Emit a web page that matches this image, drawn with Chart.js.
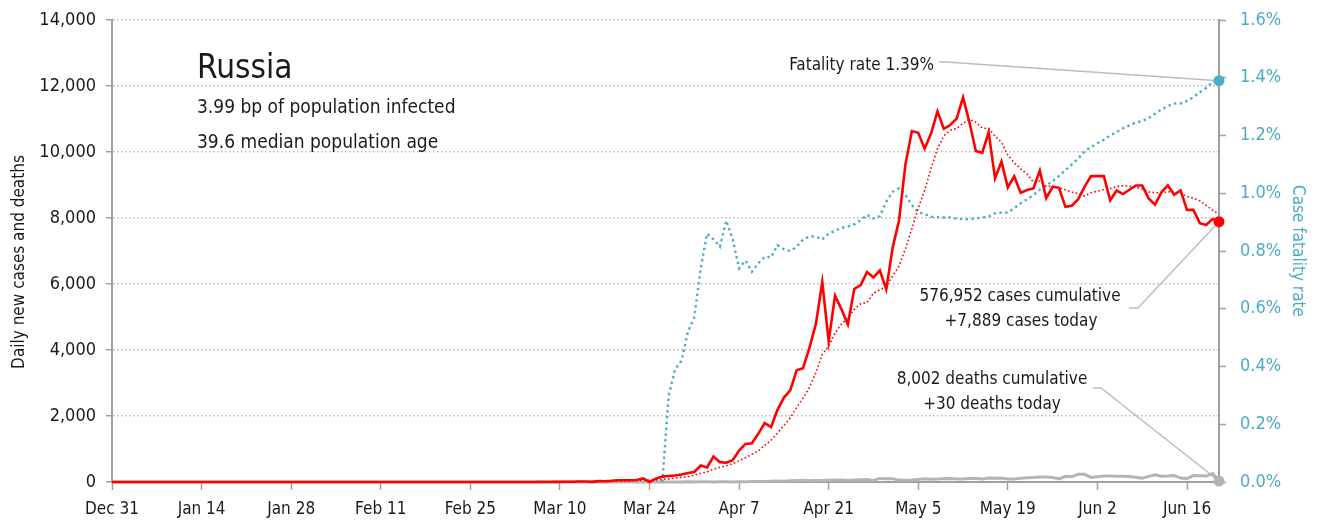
<!DOCTYPE html>
<html><head><meta charset="utf-8">
<script src="https://cdn.jsdelivr.net/npm/chart.js@4/dist/chart.umd.min.js"></script>
<style>html,body{margin:0;padding:0;background:#fff;}canvas{display:block;}</style>
</head><body>
<canvas id="c" width="1324" height="524"></canvas>
<script>
// ---- data (one value per day, Dec 31 = day 0) ----
const tickLabels = ['Dec 31','Jan 14','Jan 28','Feb 11','Feb 25','Mar 10','Mar 24','Apr 7','Apr 21','May 5','May 19','Jun 2','Jun 16'];
const tickDays = [0,14,28,42,56,70,84,98,112,126,140,154,168];

const dailyCases = [
0,0,0,0,0,0,0,0,0,0, 0,0,0,0,0,0,0,0,0,0, 0,0,0,0,0,0,0,0,0,0,
0,0,2,0,0,0,0,0,0,0, 0,0,0,0,0,0,0,0,0,0, 0,0,0,0,0,0,0,0,0,0,
0,0,1,0,0,0,0,4,0,3,
3,7,8,17,14,4,27,24,33,52,
54,53,61,110,0,100,163,182,196,228,
270,302,500,440,771,601,582,658,954,1154,
1175,1459,1786,1667,2186,2558,2774,3388,3448,4070,
4785,6060,4268,5642,5236,4774,5849,5966,6361,6198,
6411,5841,7099,7933,9623,10633,10581,10102,10559,11231,
10699,10817,11012,11656,10899,10028,9974,10598,9200,9709,
8926,9263,8764,8849,8894,9434,8599,8946,8915,8338,
8371,8572,8952,9268,9268,9268,8536,8831,8726,8855,
8984,8985,8595,8404,8779,8987,8706,8835,8246,8248,
7843,7790,7972,7889];

const casesAvg7 = [
0,0,0,0,0,0,0,0,0,0, 0,0,0,0,0,0,0,0,0,0, 0,0,0,0,0,0,0,0,0,0,
0,0,0.3,0.3,0.3,0.3,0.3,0.3,0.3,0, 0,0,0,0,0,0,0,0,0,0, 0,0,0,0,0,0,0,0,0,0,
0,0,0.1,0.1,0.1,0.1,0.1,0.7,0.7,1.0,
1.4,2.4,3.6,6.0,7.4,8.0,11.4,14.4,18.1,24.4,
29.7,35.3,43.4,55.3,51.9,61.4,77.3,95.6,116,139.9,
162.7,205.9,263,302.6,386.7,444.6,495.1,550.6,643.7,737.1,
842.1,940.4,1109.7,1264.7,1483,1712.1,1943.6,2259.7,2543.9,2870.1,
3315.6,3869,4113.3,4523,4787,4976.4,5230.6,5399.3,5442.3,5718,
5827.9,5914.3,6246.4,6544.1,7066.6,7676.9,8303,8830.3,9504.3,10094.6,
10489.7,10660.3,10714.4,10868,10982,10906,10726,10712,10481,10295,
9905,9671,9491,9330,9086,9120,8961,8964,8914,8854,
8785,8739,8670,8766,8812,8862,8891,8956,8978,8965,
8924,8884,8787,8769,8761,8798,8777,8756,8650,8601,
8521,8379,8234,8118];

const dailyDeaths = [
0,0,0,0,0,0,0,0,0,0, 0,0,0,0,0,0,0,0,0,0, 0,0,0,0,0,0,0,0,0,0,
0,0,0,0,0,0,0,0,0,0, 0,0,0,0,0,0,0,0,0,0, 0,0,0,0,0,0,0,0,0,0,
0,0,0,0,0,0,0,0,0,0,
0,0,0,0,0,0,0,0,0,0,
1,0,0,0,1,0,1,1,0,1,
4,1,8,7,2,4,9,2,11,11,
13,18,18,22,28,24,36,42,51,41,
45,47,51,57,57,42,60,66,72,47,
108,101,96,57,56,58,76,95,86,88,
98,104,88,94,107,107,93,119,113,119,
94,91,115,127,135,150,153,139,92,174,
161,232,232,138,162,181,182,178,176,169,
144,112,171,216,174,181,194,119,104,194,
193,181,255,30];

const fatalityRate = [
null,null,null,null,null,null,null,null,null,null, null,null,null,null,null,null,null,null,null,null,
null,null,null,null,null,null,null,null,null,null, null,null,null,null,null,null,null,null,null,null,
null,null,null,null,null,null,null,null,null,null, null,null,null,null,null,null,null,null,null,null,
null,null,null,null,null,null,null,null,null,null,
null,null,null,null,null,null,null,null,null,null,
null,null,null,null,null,null,0,0.30,0.39,0.42,
0.52,0.57,0.74,0.86,0.84,0.815,0.905,0.84,0.74,0.767,
0.728,0.757,0.78,0.778,0.82,0.806,0.80,0.815,0.84,0.85,
0.85,0.84,0.86,0.87,0.88,0.885,0.892,0.907,0.925,0.913,
0.921,0.971,1.005,1.017,0.994,0.959,0.934,0.928,0.919,0.917,
0.916,0.916,0.912,0.910,0.910,0.913,0.916,0.919,0.931,0.933,
0.933,0.948,0.965,0.979,0.994,1.012,1.027,1.042,1.06,1.08,
1.10,1.12,1.145,1.16,1.173,1.185,1.20,1.212,1.225,1.235,
1.245,1.25,1.26,1.275,1.29,1.302,1.311,1.311,1.32,1.333,
1.35,1.365,1.385,1.39];

const titleText = 'Russia';
const infoLines = ['3.99 bp of population infected', '39.6 median population age'];
const fatalityNote = 'Fatality rate 1.39%';
const casesNote = ['576,952 cases cumulative', '+7,889 cases today'];
const deathsNote = ['8,002 deaths cumulative', '+30 deaths today'];
const leftTitle = 'Daily new cases and deaths';
const rightTitle = 'Case fatality rate';

// ---- styles ----
const FONT = "'DejaVu Sans Condensed', 'DejaVu Sans', sans-serif";
const NARROW = "'Liberation Sans Narrow', 'DejaVu Sans Condensed', sans-serif";
const RED = '#ff0000';
const BLUE = '#4bacc6';
const GRAY = '#b4b4b4';
const AXIS = '#a0a0a0';
const TEXT = '#1a1a1a';

const pts = arr => arr.map((v, i) => ({x: i, y: v}));
const lastIdx = dailyCases.length - 1;
const lastOnly = r => ctx => ctx.dataIndex === lastIdx ? r : 0;
const noVPad = s => { s.paddingTop = 0; s.paddingBottom = 0; };

const annot = {
  id: 'annot',
  beforeDatasetsDraw(chart) {
    const ctx = chart.ctx;
    const m0 = chart.getDatasetMeta(0).data[lastIdx];
    const m2 = chart.getDatasetMeta(2).data[lastIdx];
    const m3 = chart.getDatasetMeta(3).data[lastIdx];
    ctx.save();
    ctx.strokeStyle = '#bdbdbd';
    ctx.lineWidth = 1.5;
    ctx.beginPath();
    ctx.moveTo(939, 62); ctx.lineTo(946, 62); ctx.lineTo(m2.x, m2.y);
    ctx.moveTo(1129, 308); ctx.lineTo(1138, 308); ctx.lineTo(m0.x, m0.y);
    ctx.moveTo(1093, 388); ctx.lineTo(1101, 388); ctx.lineTo(m3.x, m3.y);
    ctx.stroke();
    ctx.restore();
  },
  afterDraw(chart) {
    const ctx = chart.ctx;
    ctx.save();
    ctx.fillStyle = TEXT;
    ctx.textBaseline = 'alphabetic';
    ctx.textAlign = 'left';
    ctx.font = '33px ' + NARROW;
    ctx.fillText(titleText, 197, 78);
    ctx.font = '19px ' + FONT;
    ctx.fillText(infoLines[0], 197, 113);
    ctx.fillText(infoLines[1], 197, 148);
    ctx.font = '17px ' + FONT;
    ctx.textAlign = 'right';
    ctx.fillText(fatalityNote, 934, 70);
    ctx.textAlign = 'center';
    ctx.fillText(casesNote[0], 1020, 301);
    ctx.fillText(casesNote[1], 1021, 326);
    ctx.fillText(deathsNote[0], 992, 384);
    ctx.fillText(deathsNote[1], 992, 409);
    // axis titles
    ctx.textBaseline = 'middle';
    ctx.save();
    ctx.translate(20, 262);
    ctx.rotate(-Math.PI / 2);
    ctx.fillText(leftTitle, 0, 0);
    ctx.restore();
    ctx.save();
    ctx.fillStyle = BLUE;
    ctx.translate(1297, 251);
    ctx.rotate(Math.PI / 2);
    ctx.fillText(rightTitle, 0, 0);
    ctx.restore();
    ctx.restore();
  }
};

new Chart(document.getElementById('c'), {
  type: 'line',
  data: {
    datasets: [
      {label: 'Daily cases', data: pts(dailyCases), yAxisID: 'y', borderColor: RED, backgroundColor: RED,
       borderWidth: 2.6, pointRadius: lastOnly(5.5), pointBorderWidth: 0, tension: 0, clip: false},
      {label: '7-day average', data: pts(casesAvg7), yAxisID: 'y', borderColor: RED, borderWidth: 1.6,
       borderDash: [1.6, 2.4], pointRadius: 0, tension: 0},
      {label: 'Case fatality rate', data: pts(fatalityRate), yAxisID: 'y2', borderColor: BLUE, backgroundColor: BLUE,
       borderWidth: 2.4, borderDash: [2.4, 3.4], pointRadius: lastOnly(5.5), pointBorderWidth: 0, tension: 0, clip: false, spanGaps: false},
      {label: 'Daily deaths', data: pts(dailyDeaths), yAxisID: 'y', borderColor: GRAY, backgroundColor: GRAY,
       borderWidth: 3, pointRadius: lastOnly(5.5), pointBorderWidth: 0, tension: 0, clip: false}
    ]
  },
  options: {
    responsive: false,
    animation: false,
    devicePixelRatio: 1,
    layout: {padding: {top: 20, left: 0, right: 0, bottom: 0}},
    plugins: {legend: {display: false}, tooltip: {enabled: false}, title: {display: false}},
    scales: {
      x: {
        type: 'linear', min: 0, max: lastIdx,
        afterBuildTicks: axis => { axis.ticks = tickDays.map(v => ({value: v})); },
        afterFit: s => { s.height = 42; },
        ticks: {callback: v => tickLabels[tickDays.indexOf(v)], color: TEXT, font: {family: FONT, size: 17}, padding: 9, maxRotation: 0, autoSkip: false},
        grid: {drawOnChartArea: false, drawTicks: true, tickLength: 8, tickColor: AXIS, tickWidth: 1.5},
        border: {display: true, color: AXIS, width: 2}
      },
      y: {
        position: 'left', min: 0, max: 14000,
        afterFit: s => { s.width = 112; noVPad(s); },
        ticks: {stepSize: 2000, callback: v => v.toLocaleString('en-US'), color: TEXT, font: {family: FONT, size: 18}, padding: 10},
        grid: {color: '#b8b8b8', lineWidth: 1.5, tickLength: 6, tickColor: AXIS, tickWidth: 1.5},
        border: {display: true, color: AXIS, width: 2, dash: [1.5, 2.5]}
      },
      y2: {
        position: 'right', min: 0, max: 1.6,
        afterFit: s => { s.width = 105; noVPad(s); },
        ticks: {stepSize: 0.2, callback: v => v.toFixed(1) + '%', color: BLUE, font: {family: FONT, size: 18}, padding: 14},
        grid: {drawOnChartArea: false, tickLength: 7, tickColor: AXIS, tickWidth: 1.5},
        border: {display: true, color: AXIS, width: 2}
      }
    }
  },
  plugins: [annot]
});
</script>
</body></html>
